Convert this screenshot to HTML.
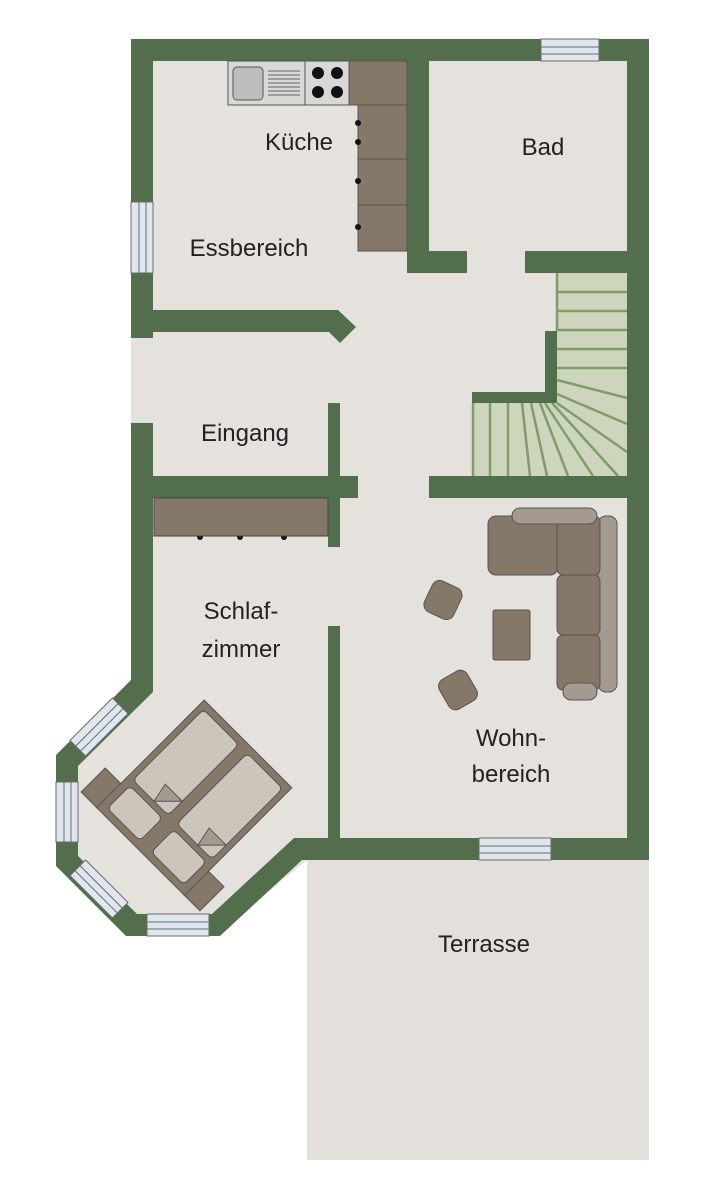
<!DOCTYPE html>
<html><head><meta charset="utf-8"><style>
html,body{margin:0;padding:0;background:#fff}
svg{display:block}
text{font-family:"Liberation Sans",Arial,sans-serif;font-size:24px;fill:#222;text-anchor:middle}
</style></head><body>
<svg width="707" height="1200" viewBox="0 0 707 1200" xmlns="http://www.w3.org/2000/svg">
<rect width="707" height="1200" fill="#fff"/>
<rect x="307" y="858" width="342" height="302" fill="#e3dfda"/>
<polygon points="131,39 649,39 649,860 307,860 216,935 129,935 56,863 56,762 131,680" fill="#e5e1dd"/>
<g fill="#cdd5bd" stroke="none">
<rect x="557" y="273" width="70" height="203"/>
<rect x="472" y="403" width="85" height="73"/>
</g>
<g stroke="#7f9c6a" stroke-width="2.5" fill="none">
<line x1="557" y1="273" x2="557" y2="331"/>
<line x1="557" y1="292" x2="627" y2="292"/>
<line x1="557" y1="311" x2="627" y2="311"/>
<line x1="557" y1="330" x2="627" y2="330"/>
<line x1="557" y1="349" x2="627" y2="349"/>
<line x1="557" y1="368" x2="627" y2="368"/>
<line x1="557" y1="380" x2="627" y2="398"/>
<line x1="557" y1="394" x2="627" y2="424"/>
<line x1="557" y1="403" x2="627" y2="452"/>
<line x1="552" y1="403" x2="618" y2="476"/>
<line x1="545" y1="403" x2="593" y2="476"/>
<line x1="540" y1="403" x2="568" y2="476"/>
<line x1="531" y1="403" x2="547" y2="476"/>
<line x1="522" y1="403" x2="530" y2="476"/>
<line x1="508" y1="403" x2="508" y2="476"/>
<line x1="490" y1="403" x2="490" y2="476"/>
<line x1="473" y1="403" x2="473" y2="476"/>
</g>
<g fill="#536e4c">
<rect x="131" y="39" width="518" height="22"/>
<rect x="627" y="39" width="22" height="821"/>
<rect x="131" y="39" width="22" height="299"/>
<rect x="131" y="423" width="22" height="262"/>
<polygon points="131,680 56,755 56,866 126,936 220,936 302,860 649,860 649,838 294,838 212,914 137,914 78,856 78,766 153,692 153,680"/>
<rect x="407" y="61" width="22" height="212"/>
<rect x="407" y="251" width="60" height="22"/>
<rect x="525" y="251" width="102" height="22"/>
<polygon points="153,310 338,310 356,327 340,343 329,332 153,332"/>
<rect x="328" y="403" width="12" height="144"/>
<rect x="153" y="476" width="205" height="22"/>
<rect x="429" y="476" width="198" height="22"/>
<rect x="328" y="626" width="12" height="214"/>
<rect x="545" y="331" width="12" height="72"/>
<rect x="472" y="392" width="85" height="11"/>
</g>
<g fill="#dfe6ee" stroke="#6b6b6b" stroke-width="1">
<rect x="541" y="39" width="58" height="22"/>
<line x1="541" y1="47" x2="599" y2="47"/><line x1="541" y1="54" x2="599" y2="54"/>
<rect x="131" y="202" width="22" height="71"/>
<line x1="139" y1="202" x2="139" y2="273"/><line x1="146" y1="202" x2="146" y2="273"/>
<rect x="479" y="838" width="72" height="22"/>
<line x1="479" y1="846" x2="551" y2="846"/><line x1="479" y1="853" x2="551" y2="853"/>
<rect x="56" y="782" width="22" height="60"/>
<line x1="64" y1="782" x2="64" y2="842"/><line x1="71" y1="782" x2="71" y2="842"/>
<rect x="147" y="914" width="62" height="22"/>
<line x1="147" y1="922" x2="209" y2="922"/><line x1="147" y1="929" x2="209" y2="929"/>
<g transform="translate(99,727) rotate(-45)">
<rect x="-30" y="-11" width="60" height="22"/>
<line x1="-30" y1="-3" x2="30" y2="-3"/><line x1="-30" y1="4" x2="30" y2="4"/>
</g>
<g transform="translate(99,889) rotate(45)">
<rect x="-30" y="-11" width="60" height="22"/>
<line x1="-30" y1="-3" x2="30" y2="-3"/><line x1="-30" y1="4" x2="30" y2="4"/>
</g>
</g>
<g stroke="#555" stroke-width="1">
<rect x="228" y="61" width="77" height="44" fill="#d8d8d8"/>
<rect x="233" y="67" width="30" height="33" rx="4" fill="#bdbdbd"/>
<g stroke="#666"><line x1="268" y1="71" x2="300" y2="71"/><line x1="268" y1="75" x2="300" y2="75"/><line x1="268" y1="79" x2="300" y2="79"/><line x1="268" y1="83" x2="300" y2="83"/><line x1="268" y1="87" x2="300" y2="87"/><line x1="268" y1="91" x2="300" y2="91"/><line x1="268" y1="95" x2="300" y2="95"/></g>
<rect x="305" y="61" width="44" height="44" fill="#d8d8d8"/>
<rect x="349" y="61" width="58" height="44" fill="#857868"/>
<rect x="358" y="105" width="49" height="54" fill="#857868"/>
<rect x="358" y="159" width="49" height="46" fill="#857868"/>
<rect x="358" y="205" width="49" height="46" fill="#857868"/>
</g>
<g fill="#111">
<circle cx="318" cy="73" r="6"/><circle cx="337" cy="73" r="6"/>
<circle cx="318" cy="92" r="6"/><circle cx="337" cy="92" r="6"/>
<circle cx="358" cy="123" r="3"/><circle cx="358" cy="142" r="3"/><circle cx="358" cy="181" r="3"/><circle cx="358" cy="227" r="3"/>
<circle cx="200" cy="537" r="3"/><circle cx="240" cy="537" r="3"/><circle cx="284" cy="537" r="3"/>
</g>
<rect x="154" y="498" width="174" height="38" fill="#857868" stroke="#444" stroke-width="1"/>
<g stroke="#555" stroke-width="1">
<rect x="598" y="516" width="19" height="176" rx="8" fill="#a59a8f"/>
<rect x="488" y="516" width="70" height="59" rx="8" fill="#857868"/>
<rect x="557" y="516" width="43" height="59" rx="6" fill="#857868"/>
<rect x="557" y="575" width="43" height="60" rx="6" fill="#857868"/>
<rect x="557" y="635" width="43" height="55" rx="6" fill="#857868"/>
<rect x="512" y="508" width="85" height="16" rx="8" fill="#a59a8f"/>
<rect x="563" y="683" width="34" height="17" rx="8" fill="#a59a8f"/>
<rect x="493" y="610" width="37" height="50" rx="2" fill="#857868"/>
<rect x="-16" y="-17" width="32" height="34" rx="8" fill="#857868" transform="translate(443,600) rotate(25)"/>
<rect x="-16" y="-17" width="32" height="34" rx="8" fill="#857868" transform="translate(458,690) rotate(-30)"/>
</g>
<!-- bed: head toward lower-left -->
<g transform="translate(195,797) rotate(225)" stroke="#555" stroke-width="1">
<rect x="-84" y="-77" width="24" height="34" fill="#857868"/>
<rect x="60" y="-77" width="24" height="34" fill="#857868"/>
<rect x="-62" y="-77" width="124" height="152" fill="#857868"/>
<rect x="-54" y="-70" width="46" height="32" rx="5" fill="#cdc5bb"/>
<rect x="8" y="-70" width="46" height="32" rx="5" fill="#cdc5bb"/>
<rect x="-56" y="-32" width="50" height="100" rx="5" fill="#cdc5bb"/>
<rect x="6" y="-32" width="50" height="100" rx="5" fill="#cdc5bb"/>
<polygon points="-56,-12 -36,-32 -32,-12" fill="#a59a8f"/>
<polygon points="6,-12 26,-32 30,-12" fill="#a59a8f"/>
</g>
<text x="299" y="150">Küche</text>
<text x="543" y="155">Bad</text>
<text x="249" y="256">Essbereich</text>
<text x="245" y="441">Eingang</text>
<text x="241" y="619">Schlaf-</text>
<text x="241" y="657">zimmer</text>
<text x="511" y="746">Wohn-</text>
<text x="511" y="782">bereich</text>
<text x="484" y="952">Terrasse</text>
</svg>
</body></html>
